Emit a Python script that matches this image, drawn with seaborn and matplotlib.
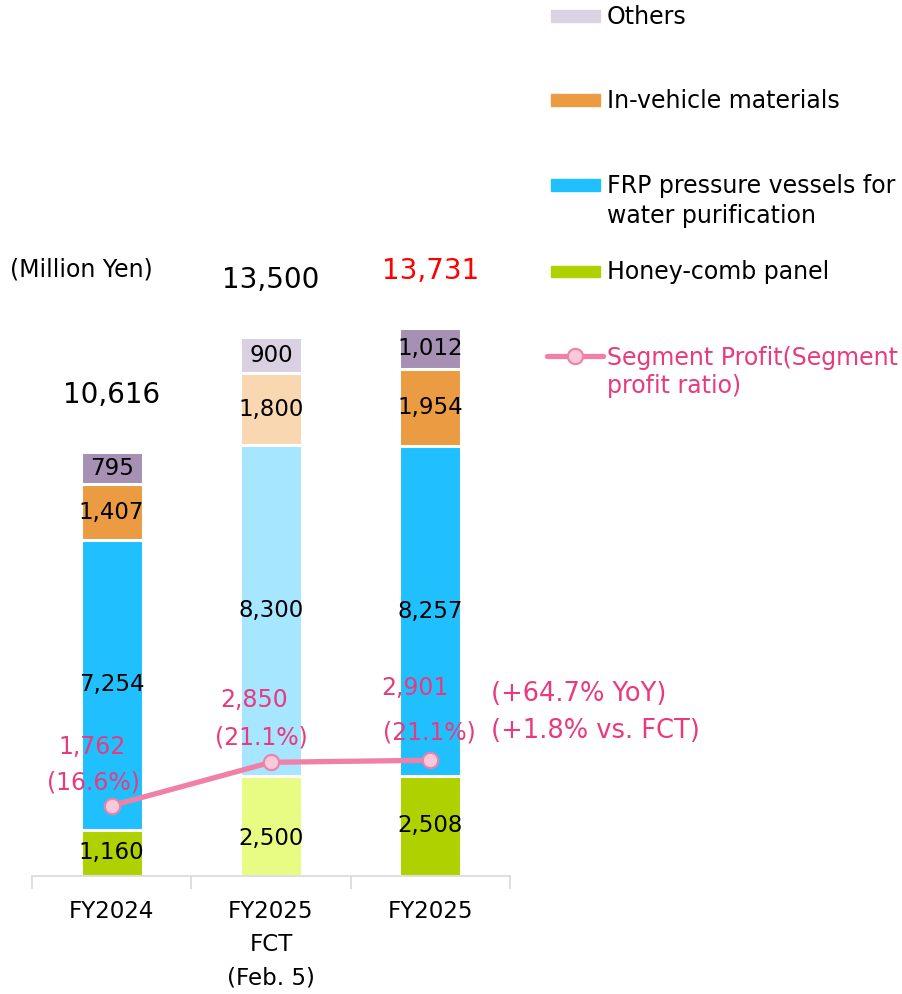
import matplotlib
matplotlib.use("Agg")
import matplotlib.pyplot as plt
import seaborn as sns
import numpy as np
import pandas as pd
from matplotlib.lines import Line2D
from matplotlib.patches import Rectangle

# Data (Million Yen)
periods = ["FY2024", "FY2025 FCT", "FY2025"]
tick_labels = ["FY2024", "FY2025\nFCT\n(Feb. 5)", "FY2025"]
honeycomb = [1160, 2500, 2508]
frp = [7254, 8300, 8257]
vehicle = [1407, 1800, 1954]
others = [795, 900, 1012]
totals = [10616, 13500, 13731]
profit = [1762, 2850, 2901]
profit_ratio = ["16.6%", "21.1%", "21.1%"]

layers = [
    ("Honey-comb panel", honeycomb, ["#B0D100", "#E8FC84", "#B0D100"], "#B0D100"),
    ("FRP pressure vessels for\nwater purification", frp, ["#20C0FF", "#A6E6FF", "#20C0FF"], "#20C0FF"),
    ("In-vehicle materials", vehicle, ["#EB9C43", "#F8D7B1", "#EB9C43"], "#EB9C43"),
    ("Others", others, ["#A690B4", "#D9D1E1", "#A690B4"], "#D9D3E3"),
]

sns.set_theme(style="white")
plt.rcParams["font.family"] = ["DejaVu Sans"]
plt.rcParams["text.color"] = "black"
plt.rcParams["xtick.labelcolor"] = "black"

fig = plt.figure(figsize=(9.02, 9.94), dpi=100)
PX = 0.0399  # pixels per unit
ax = fig.add_axes([32 / 902, 1 - 876 / 994, 478 / 902, 850 / 994])

# stacked bars: draw cumulative heights from top layer down
cum = np.cumsum([l[1] for l in layers], axis=0)
for i in range(len(layers) - 1, -1, -1):
    df = pd.DataFrame({"period": periods, "value": cum[i]})
    sns.barplot(data=df, x="period", y="value", hue="period", palette=layers[i][2],
                legend=False, width=0.39, edgecolor="white", linewidth=2.2, ax=ax,
                saturation=1)

# segment labels
for i, (_, vals, _, _) in enumerate(layers):
    bottoms = cum[i] - np.array(vals)
    for j, v in enumerate(vals):
        yoff = -300 if (i == 0 and j == 1) else 0
        ax.text(j, bottoms[j] + v / 2 + yoff, f"{v:,}", ha="center", va="center",
                fontsize=16.5, color="black")

# totals
total_colors = ["black", "black", "#FF0000"]
for j, t in enumerate(totals):
    ax.annotate(f"{t:,}", (j, t), xytext=(0, 41), textcoords="offset points",
                ha="center", va="center", fontsize=20, color=total_colors[j])

# segment profit line
pink = "#F080A8"
sns.lineplot(x=list(range(3)), y=profit, color=pink, linewidth=3.8, marker="o",
             markersize=11, markerfacecolor="#F9C9DA", markeredgecolor=pink,
             markeredgewidth=1.5, ax=ax, zorder=5)
txt_pink = "#E83A7E"
val_off = [(-14, 42), (-12, 45), (-11, 52)]
pct_off = [(-13, 17), (-7, 18), (-1, 20)]
for j, p in enumerate(profit):
    ax.annotate(f"{p:,}", (j, p), xytext=val_off[j], textcoords="offset points",
                ha="center", va="center", fontsize=17, color=txt_pink)
    ax.annotate(f"({profit_ratio[j]})", (j, p), xytext=pct_off[j], textcoords="offset points",
                ha="center", va="center", fontsize=17, color=txt_pink)
ax.annotate("(+64.7% YoY)", (2, profit[2]), xytext=(44, 48), textcoords="offset points",
            ha="left", va="center", fontsize=18.5, color=txt_pink)
ax.annotate("(+1.8% vs. FCT)", (2, profit[2]), xytext=(44, 21), textcoords="offset points",
            ha="left", va="center", fontsize=18.5, color=txt_pink)

# axes styling
ax.set_xlim(-0.5, 2.5)
ax.set_ylim(0, 850 / PX)
ax.set_xlabel("")
ax.set_ylabel("")
ax.set_yticks([])
ax.set_xticks(range(3))
ax.set_xticklabels(tick_labels, fontsize=16.6, linespacing=1.55, va="top", color="black")
ax.set_xticks([-0.5, 0.5, 1.5, 2.5], minor=True)
ax.tick_params(axis="x", which="major", length=0, pad=17.5)
ax.tick_params(axis="x", which="minor", length=9, width=1.2, color="#D9D9D9",
               direction="out", bottom=True)
for s in ["top", "left", "right"]:
    ax.spines[s].set_visible(False)
ax.spines["bottom"].set_color("#D9D9D9")
ax.spines["bottom"].set_linewidth(1.2)

fig.text(10 / 902, 1 - 276 / 994, "(Million Yen)", fontsize=17, va="baseline", ha="left")

# legend drawn at fixed rows (y = text centre in pixels)
legend_rows = [("Others", [16]), ("In-vehicle materials", [100]),
               ("FRP pressure vessels for\nwater purification", [185, 215]),
               ("Honey-comb panel", [271])]
legend_colors = {l[0]: l[3] for l in layers}
for name, rows in legend_rows:
    py = rows[0]
    fig.add_artist(Rectangle((551 / 902, 1 - (py + 5.5) / 994), 49 / 902, 11 / 994,
                             transform=fig.transFigure, color=legend_colors[name]))
    for line, ly in zip(name.split("\n"), rows):
        fig.text(607 / 902, 1 - (ly + 8.5) / 994, line, fontsize=17, va="baseline", ha="left")
py = 356
fig.add_artist(Line2D([547 / 902, 603 / 902], [1 - py / 994] * 2, transform=fig.transFigure,
                      color=pink, linewidth=3.8))
fig.add_artist(Line2D([575 / 902], [1 - py / 994], transform=fig.transFigure, marker="o",
                      markersize=11, markerfacecolor="#F9C9DA", markeredgecolor=pink,
                      markeredgewidth=1.5))
for line, ly in zip(["Segment Profit(Segment", "profit ratio)"], [357, 385]):
    fig.text(607 / 902, 1 - (ly + 8.5) / 994, line, fontsize=17, va="baseline", ha="left",
             color=txt_pink)

fig.savefig("out.png", dpi=100)
